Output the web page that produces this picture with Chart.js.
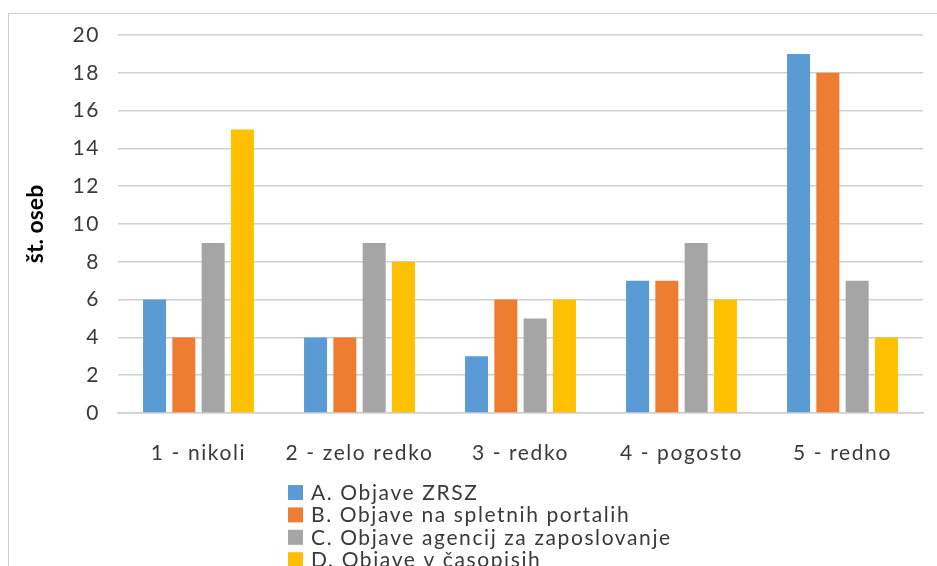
<!DOCTYPE html>
<html>
<head>
<meta charset="utf-8">
<script src="https://cdn.jsdelivr.net/npm/chart.js@4.4.1/dist/chart.umd.min.js"></script>
<style>
  html, body { margin: 0; padding: 0; background: #fff; overflow: hidden; }
  #frame { position: absolute; left: 8px; top: 13px; width: 1000px; height: 600px;
           border-left: 1px solid #d0d0d0; border-top: 1px solid #d0d0d0; }
  #chart { position: absolute; left: 0; top: 0; }
</style>
</head>
<body>
<div id="frame"></div>
<canvas id="chart" width="937" height="566"></canvas>
<script>
var categories = ["1 - nikoli", "2 - zelo redko", "3 - redko", "4 - pogosto", "5 - redno"];
var seriesNames = ["A. Objave ZRSZ", "B. Objave na spletnih portalih", "C. Objave agencij za zaposlovanje", "D. Objave v časopisih"];
var seriesA = [6, 4, 3, 7, 19];
var seriesB = [4, 4, 6, 7, 18];
var seriesC = [9, 9, 5, 9, 7];
var seriesD = [15, 8, 6, 6, 4];
var yTicks = [0, 2, 4, 6, 8, 10, 12, 14, 16, 18, 20];
var yTitle = "št. oseb";

var colors = ["#5B9BD5", "#ED7D31", "#A5A5A5", "#FFC000"];
var fontFam = "Lato, 'Open Sans', sans-serif";
var textCol = "#3a3a3a";

// excel-ish wide letter spacing
var spacing = {
  id: "spacing",
  beforeUpdate: function(chart) { chart.ctx.letterSpacing = "1.6px"; },
  beforeDraw: function(chart) { chart.ctx.letterSpacing = "1.6px"; }
};

// y title (tight, bold) + vertical legend that runs off the bottom like the original
var extras = {
  id: "extras",
  afterDraw: function(chart) {
    var ctx = chart.ctx;
    var area = chart.chartArea;
    ctx.save();
    ctx.letterSpacing = "0px";
    ctx.translate(36, (area.top + area.bottom) / 2);
    ctx.rotate(-Math.PI / 2);
    ctx.font = "bold 23px " + fontFam;
    ctx.fillStyle = "#000";
    ctx.textAlign = "center";
    ctx.textBaseline = "middle";
    ctx.fillText(yTitle, 0, 0);
    ctx.restore();

    ctx.save();
    ctx.letterSpacing = "1.6px";
    ctx.font = "21px " + fontFam;
    ctx.textBaseline = "middle";
    ctx.textAlign = "left";
    chart.data.datasets.forEach(function(ds, i) {
      var y = 485 + i * 22.4;
      ctx.fillStyle = ds.backgroundColor;
      ctx.fillRect(288, y, 15, 15);
      ctx.fillStyle = textCol;
      ctx.fillText(ds.label, 311, y + 8);
    });
    ctx.restore();
  }
};

var datasets = [seriesA, seriesB, seriesC, seriesD].map(function(d, i) {
  return { label: seriesNames[i], data: d, backgroundColor: colors[i], borderWidth: 0 };
});

new Chart(document.getElementById("chart"), {
  type: "bar",
  data: { labels: categories, datasets: datasets },
  plugins: [spacing, extras],
  options: {
    responsive: false,
    animation: false,
    devicePixelRatio: 1,
    categoryPercentage: 0.728,
    barPercentage: 0.785,
    layout: { padding: { left: 0, right: 14, top: 35, bottom: 73 } },
    plugins: { legend: { display: false }, tooltip: { enabled: false } },
    scales: {
      x: {
        grid: { display: false, drawTicks: false },
        border: { color: "#d0d0d0", width: 1.5 },
        ticks: { color: textCol, font: { family: fontFam, size: 21 }, padding: 28, maxRotation: 0 },
        afterFit: function(s) { s.height = 80; }
      },
      y: {
        min: 0, max: 20,
        afterBuildTicks: function(s) { s.ticks = yTicks.map(function(v) { return { value: v }; }); },
        grid: { color: "#d0d0d0", lineWidth: 1.5, drawTicks: false },
        border: { display: false },
        ticks: { color: textCol, font: { family: fontFam, size: 21 }, padding: 18 },
        afterFit: function(s) { s.width = 118; }
      }
    }
  }
});
</script>
</body>
</html>
